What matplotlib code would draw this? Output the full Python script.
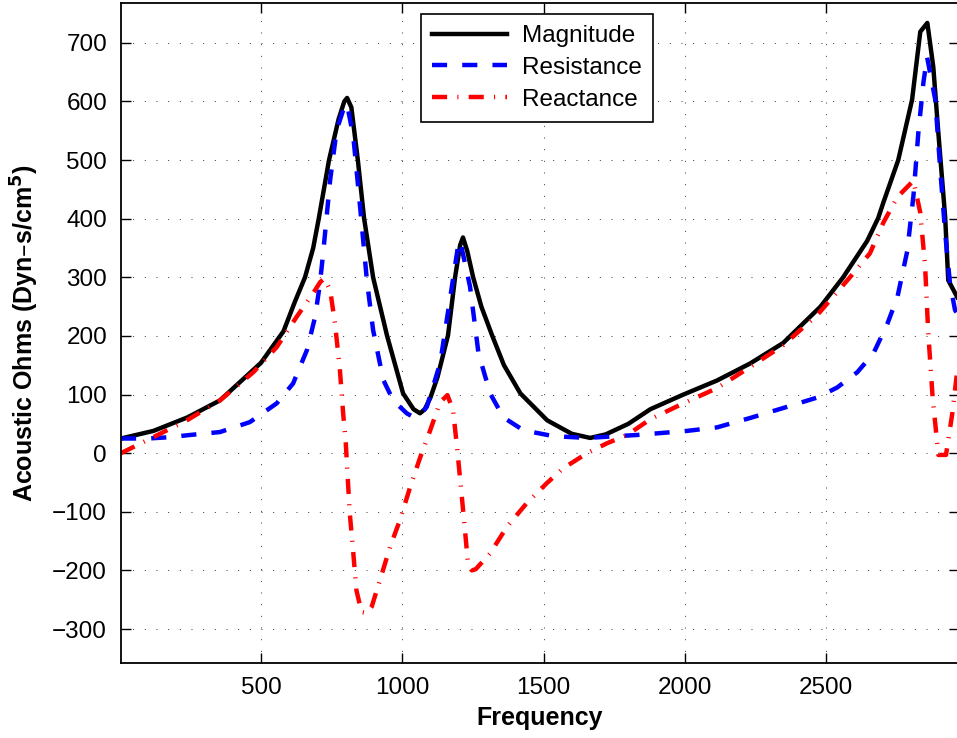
import matplotlib
matplotlib.use("Agg")
import matplotlib.pyplot as plt

plt.rcParams["font.family"] = ["Liberation Sans", "DejaVu Sans"]

# ---- data ----
mag_f = [5, 120, 240, 355, 500, 580, 620, 656, 685, 705, 741, 775, 795, 805, 820,
         843, 865, 897, 946, 1003, 1040, 1063, 1080, 1100, 1125, 1162, 1187, 1205,
         1215, 1230, 1251, 1280, 1318, 1360, 1418, 1513, 1600, 1665, 1720, 1800,
         1878, 1995, 2114, 2231, 2348, 2480, 2560, 2645, 2684, 2702, 2755, 2804,
         2833, 2858, 2879, 2897, 2921, 2932, 2964]
mag_v = [25, 38, 61, 90, 154, 208, 258, 300, 350, 401, 500, 570, 600, 606, 590,
         500, 401, 300, 201, 102, 75, 68, 75, 95, 130, 201, 300, 355,
         368, 345, 300, 250, 201, 150, 102, 56, 33, 26, 32, 50,
         75, 100, 124, 153, 188, 250, 300, 362, 401, 427, 500, 603,
         719, 734, 659, 546, 403, 295, 266]

res_f = [5, 100, 170, 249, 355, 461, 556, 614, 663, 692, 709, 720, 745, 768, 797,
         805, 827, 851, 875, 897, 933, 968, 1016, 1038, 1060, 1087, 1134, 1170,
         1199, 1205, 1240, 1270, 1311, 1358, 1429, 1535, 1654, 1831, 2008, 2114,
         2231, 2348, 2469, 2539, 2610, 2667, 2716, 2752, 2787, 2809, 2826, 2844,
         2857, 2886, 2903, 2921, 2938, 2956, 2964]
res_v = [25, 25, 27, 31, 36, 53, 85, 119, 176, 233, 290, 340, 466, 551, 594,
         595, 540, 420, 295, 210, 125, 90, 68, 62, 64, 79, 153, 266,
         358, 362, 284, 170, 102, 61, 39, 29, 26, 31, 38, 44,
         60, 77, 95, 112, 138, 170, 220, 266, 345, 440, 546, 632,
         676, 603, 488, 376, 290, 244, 238]

rea_f = [5, 118, 238, 355, 473, 556, 627, 685, 710, 725, 745, 762, 779, 791, 800,
         814, 827, 838, 856, 875, 892, 921, 957, 992, 1028, 1063, 1099, 1134, 1160,
         1180, 1194, 1211, 1222, 1233, 1246, 1260, 1311, 1370, 1441, 1512, 1569,
         1654, 1725, 1796, 1878, 1995, 2114, 2231, 2348, 2469, 2584, 2655, 2702,
         2752, 2809, 2833, 2850, 2861, 2877, 2893, 2897, 2924, 2947, 2964]
rea_v = [0, 27, 56, 90, 138, 181, 233, 273, 292, 298, 278, 222, 145, 68, 20,
         -100, -171, -234, -271, -273, -262, -217, -160, -114, -58, -8, 39, 87, 99,
         73, 10, -75, -131, -190, -200, -198, -171, -126, -85, -51, -26,
         0, 17, 31, 58, 85, 111, 147, 184, 236, 300, 341, 393,
         437, 465, 410, 320, 207, 93, 17, -3, -3, 70, 142]

xticks = [500, 1000, 1500, 2000, 2500]
yticks = [-300, -200, -100, 0, 100, 200, 300, 400, 500, 600, 700]

fig = plt.figure(figsize=(9.57, 7.38), dpi=100)
ax = fig.add_axes([121 / 957, 75 / 738, 838 / 957, 660 / 738])

ax.plot(mag_f, mag_v, color="k", lw=3.2, label="Magnitude")
ax.plot(res_f, res_v, color=(0, 0, 1), lw=3.2, dashes=(3.4, 3.4), label="Resistance")
ax.plot(rea_f, rea_v, color=(1, 0, 0), lw=3.2, dashes=(3.4, 2.3, 0.25, 2.3),
        label="Reactance")

ax.set_xlim(5, 2970)
ax.set_ylim(-358, 768)
ax.set_xticks(xticks)
ax.set_yticks(yticks)
ax.grid(True, color="#333333", lw=0.7, ls=(0, (1, 11)))
ax.tick_params(direction="in", length=7, width=1, labelsize=17.5,
               top=True, right=True, pad=10)
for s in ax.spines.values():
    s.set_linewidth(1.3)

ax.set_xlabel("Frequency", fontsize=18, fontweight="bold", labelpad=5)
ax.set_ylabel(r"Acoustic Ohms (Dyn–s/cm$^\mathbf{5}$)", fontsize=18,
              fontweight="bold", labelpad=8)

leg = ax.legend(loc="upper left", bbox_to_anchor=(0.358, 0.983), fontsize=17.5,
                frameon=True, fancybox=False, edgecolor="k", framealpha=1,
                handlelength=3.1, handletextpad=0.62, labelspacing=0.4,
                borderpad=0.45, borderaxespad=0)
leg.get_frame().set_linewidth(1.2)

fig.savefig("out.png", dpi=100)
